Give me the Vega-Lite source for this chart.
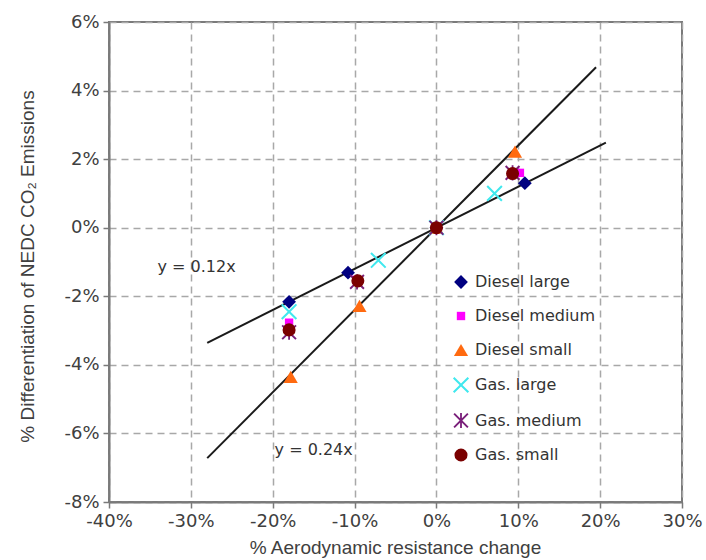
{
  "$schema": "https://vega.github.io/schema/vega-lite/v6.json",
  "autosize": {"type": "none"},
  "padding": {"left": 109, "top": 22, "right": 24, "bottom": 58},
  "width": 573,
  "height": 480,
  "background": "white",
  "config": {
    "view": {"stroke": "#7a7a7a", "strokeWidth": 2},
    "font": "DejaVu Sans",
    "axis": {
      "domainColor": "#7a7a7a", "domainWidth": 2,
      "tickColor": "#7a7a7a", "tickWidth": 1.5, "tickSize": 6,
      "gridColor": "#a8a8a8", "gridDash": [7, 5], "gridWidth": 1.5,
      "labelFlush": false, "labelOverlap": false,
      "labelFont": "DejaVu Sans", "labelFontSize": 18, "labelColor": "#404040",
      "titleFont": "Liberation Sans", "titleFontWeight": "normal", "titleColor": "#404040"
    }
  },
  "datasets": {
    "pts": [
      {"series": "Diesel large", "x": -18, "y": -2.16},
      {"series": "Diesel large", "x": -10.8, "y": -1.31},
      {"series": "Diesel large", "x": 0, "y": 0},
      {"series": "Diesel large", "x": 10.8, "y": 1.3},
      {"series": "Diesel medium", "x": -18, "y": -2.77},
      {"series": "Diesel medium", "x": -9.8, "y": -1.52},
      {"series": "Diesel medium", "x": 0, "y": 0},
      {"series": "Diesel medium", "x": 10.2, "y": 1.6},
      {"series": "Diesel small", "x": -17.8, "y": -4.35},
      {"series": "Diesel small", "x": -9.4, "y": -2.28},
      {"series": "Diesel small", "x": 0, "y": 0},
      {"series": "Diesel small", "x": 9.6, "y": 2.22},
      {"series": "Gas. large", "x": -18, "y": -2.45},
      {"series": "Gas. large", "x": -7.1, "y": -0.95},
      {"series": "Gas. large", "x": 0, "y": 0},
      {"series": "Gas. large", "x": 7.1, "y": 1.0},
      {"series": "Gas. medium", "x": -18, "y": -3.05},
      {"series": "Gas. medium", "x": -9.7, "y": -1.58},
      {"series": "Gas. medium", "x": 0, "y": 0},
      {"series": "Gas. medium", "x": 9.3, "y": 1.6},
      {"series": "Gas. small", "x": -18, "y": -2.98},
      {"series": "Gas. small", "x": -9.6, "y": -1.55},
      {"series": "Gas. small", "x": 0, "y": 0},
      {"series": "Gas. small", "x": 9.3, "y": 1.58}
    ],
    "fits": [
      {"fit": "a", "x": -28, "y": -3.36},
      {"fit": "a", "x": 20.7, "y": 2.48},
      {"fit": "b", "x": -28, "y": -6.72},
      {"fit": "b", "x": 19.5, "y": 4.68}
    ],
    "labels": [
      {"label": "y = 0.12x", "x": -29.3, "y": -1.15},
      {"label": "y = 0.24x", "x": -15, "y": -6.48}
    ]
  },
  "encoding": {
    "x": {
      "field": "x", "type": "quantitative",
      "scale": {"domain": [-40, 30], "nice": false, "zero": false},
      "axis": {
        "values": [-40, -30, -20, -10, 0, 10, 20, 30],
        "labelExpr": "datum.value + '%'",
        "labelPadding": 4,
        "title": "% Aerodynamic resistance change",
        "titleFontSize": 19,
        "titleX": 286, "titleY": 45, "titleBaseline": "middle", "titleAlign": "center"
      }
    },
    "y": {
      "field": "y", "type": "quantitative",
      "scale": {"domain": [-8, 6], "nice": false, "zero": false},
      "axis": {
        "values": [-8, -6, -4, -2, 0, 2, 4, 6],
        "labelExpr": "datum.value + '%'",
        "labelPadding": 4,
        "title": "% Differentiation of NEDC CO₂ Emissions",
        "titleFontSize": 19,
        "titleAngle": -90,
        "titleX": -82, "titleY": 244, "titleBaseline": "middle", "titleAlign": "center"
      }
    }
  },
  "layer": [
    {
      "data": {"name": "fits"},
      "mark": {"type": "line", "color": "#1a1a1a", "strokeWidth": 2},
      "encoding": {"detail": {"field": "fit"}}
    },
    {
      "data": {"name": "pts"},
      "mark": {"type": "point", "filled": true, "opacity": 1},
      "encoding": {
        "color": {
          "field": "series", "type": "nominal",
          "scale": {
            "domain": ["Diesel large", "Diesel medium", "Diesel small", "Gas. large", "Gas. medium", "Gas. small"],
            "range": ["#000080", "#ff00ff", "#ff6a10", "#40e8ee", "#7a1f7a", "#7a0000"]
          },
          "legend": {
            "title": null,
            "orient": "none",
            "legendX": 343,
            "legendY": 252,
            "padding": 0,
            "rowPadding": 18,
            "labelFont": "DejaVu Sans",
            "labelFontSize": 16,
            "labelColor": "#333333",
            "labelOffset": 5,
            "symbolOpacity": 1,
            "encode": {
              "symbols": {"update": {"size": {"signal": "datum.value === 'Diesel medium' ? 70 : 180"}}}
            }
          }
        },
        "shape": {
          "field": "series", "type": "nominal",
          "scale": {
            "domain": ["Diesel large", "Diesel medium", "Diesel small", "Gas. large", "Gas. medium", "Gas. small"],
            "range": [
              "diamond",
              "square",
              "triangle-up",
              "M-1,-0.82L-0.82,-1L0,-0.18L0.82,-1L1,-0.82L0.18,0L1,0.82L0.82,1L0,0.18L-0.82,1L-1,0.82L-0.18,0Z",
              "M-1,-0.82L-0.82,-1L0,-0.18L0.82,-1L1,-0.82L0.18,0L1,0.82L0.82,1L0,0.18L-0.82,1L-1,0.82L-0.18,0ZM-0.12,-1L0.12,-1L0.12,1L-0.12,1Z",
              "circle"
            ]
          }
        },
        "size": {
          "field": "series", "type": "nominal",
          "scale": {
            "type": "ordinal",
            "domain": ["Diesel large", "Diesel medium", "Diesel small", "Gas. large", "Gas. medium", "Gas. small"],
            "range": [190, 70, 200, 260, 230, 170]
          }
        }
      }
    },
    {
      "data": {"name": "labels"},
      "mark": {"type": "text", "font": "DejaVu Sans", "fontSize": 16, "color": "#333333", "align": "center", "baseline": "middle"},
      "encoding": {"text": {"field": "label"}}
    }
  ]
}
